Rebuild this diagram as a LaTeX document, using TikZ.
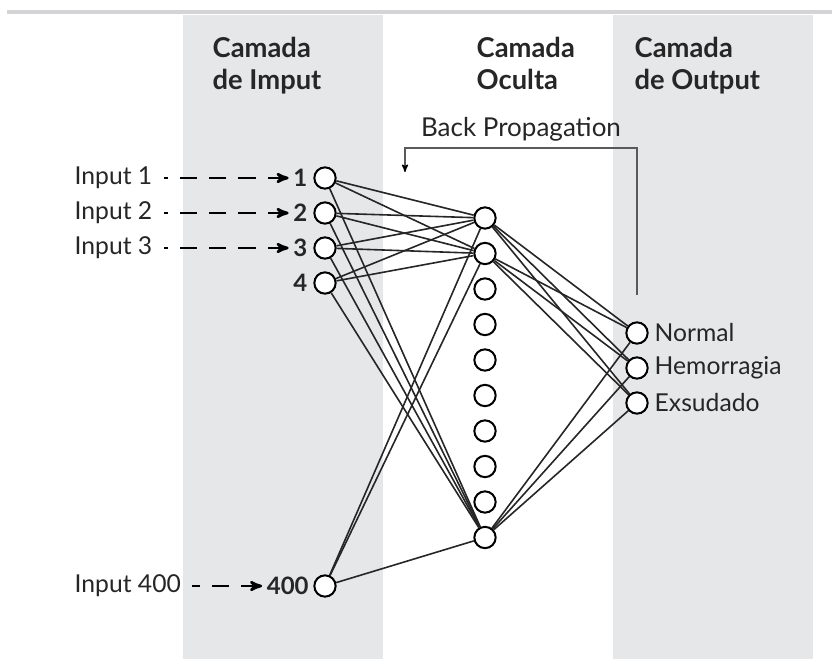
\documentclass[tikz,border=0pt]{standalone}
\usepackage{fontspec}
\setmainfont{Lato}
\usetikzlibrary{arrows,positioning,calc}
\definecolor{colgray}{HTML}{E6E7E9}
\definecolor{bpgray}{HTML}{5A5A5A}

\begin{document}
\begin{tikzpicture}[x=0.75pt,y=-0.75pt,node distance=26.25pt,on grid,>={stealth'[scale=1.3]},
    every node/.style={font=\fontsize{18.5}{22}\selectfont,text=black!85},
    neuron/.style={circle,draw,line width=1.5pt,fill=white,minimum size=16pt,inner sep=0pt},
    num/.style={font=\fontsize{18}{22}\selectfont\bfseries},
    link/.style={line width=1.2pt,black!85},
    feed/.style={<-,line width=2pt,dash pattern=on 13pt off 9pt,shorten >=5pt},
    title/.style={font=\fontsize{20.5}{24}\selectfont\bfseries,align=left,anchor=north west}]
    \useasboundingbox (0,0) rectangle (832,659);

    % faixas
    \fill[colgray] (183,15) rectangle (383,659);
    \fill[colgray] (613,15) rectangle (813,659);
    \draw[line width=3pt,colgray!92!black] (7,12) -- (832,12);

    \node[title] (T1) at (208,32) {Camada\\de Imput};
    \node[title] (T2) at (472,32) {Camada\\Oculta};
    \node[title] (T3) at (630,32) {Camada\\de Output};

    % camada de input
    \node [neuron,label={[name=n1,num,label distance=1pt]left:1}] (I1) at (325,178) {};
    \node [neuron,label={[name=n2,num,label distance=1pt]left:2}] (I2) [below=of I1] {};
    \node [neuron,label={[name=n3,num,label distance=1pt]left:3}] (I3) [below=of I2] {};
    \node [neuron,label={[name=n4,num,label distance=1pt]left:4}] (I4) [below=of I3] {};
    \node [neuron,label={[name=n400,num,label distance=0pt]left:400}] (I400) at (325,586) {};

    \node [anchor=west] (in1) at (70,178) {Input 1};
    \node [anchor=west] (in2) at (70,213) {Input 2};
    \node [anchor=west] (in3) at (70,248) {Input 3};
    \node [anchor=west] (in400) at (70,586) {Input 400};

    \draw[feed] (in1.east -| n1.west) -- (in1.east);
    \draw[feed] (in2.east -| n2.west) -- (in2.east);
    \draw[feed] (in3.east -| n3.west) -- (in3.east);
    \draw[feed] (in400.east -| n400.west) -- (in400.east);

    % camada oculta
    \foreach \k in {1,...,10}
        \node [neuron] (H\k) at (485,{218+35.5*(\k-1)}) {};

    % camada de output
    \node [neuron,label={[label distance=1pt]right:Normal}] (O1) at (637,333) {};
    \node [neuron,label={[label distance=1pt]right:Hemorragia}] (O2) [below=of O1] {};
    \node [neuron,label={[label distance=1pt]right:Exsudado}] (O3) [below=of O2] {};

    \foreach \i in {1,2,3,4,400}
        \foreach \h in {1,2,10}
            \draw[link] (I\i) -- (H\h);
    \foreach \h in {1,2,10}
        \foreach \o in {1,2,3}
            \draw[link] (H\h) -- (O\o);

    % back propagation
    \coordinate (bp-start) at (637,295);
    \coordinate (bp-end) at (405,172);
    \draw[-{stealth'[black,scale=1.1]},bpgray,line width=1pt] (bp-start) |- ($(bp-end)+(0,-24)$)
        node[pos=0.75,above=1pt,font=\fontsize{19.5}{22}\selectfont] {Back Propagation} -- (bp-end);
\end{tikzpicture}
\end{document}
